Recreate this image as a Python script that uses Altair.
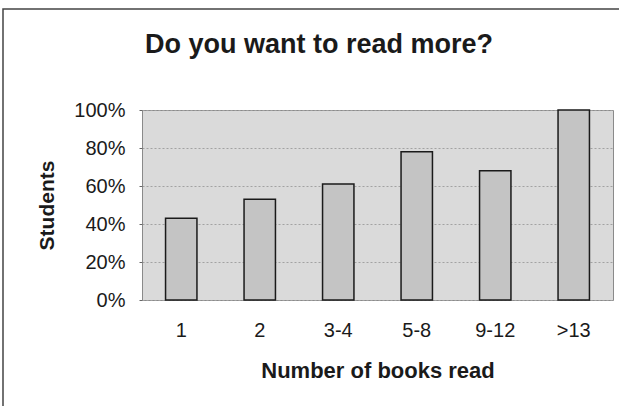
import altair as alt
import pandas as pd

# Share of students who want to read more, by number of books read
categories = ["1", "2", "3-4", "5-8", "9-12", ">13"]
shares = [0.43, 0.53, 0.61, 0.78, 0.68, 1.00]
y_ticks = [0, 0.2, 0.4, 0.6, 0.8, 1.0]
chart_title = "Do you want to read more?"

df = pd.DataFrame({"books": categories, "share": shares})

FONT = "Liberation Sans"
INK = "#1a1a1a"

bars = alt.Chart(df).mark_bar(
    color="#c4c4c4", stroke=INK, strokeWidth=1.5
).encode(
    x=alt.X(
        "books:N",
        sort=categories,
        title="Number of books read",
        scale=alt.Scale(paddingInner=0.6, paddingOuter=0.3),
        axis=alt.Axis(
            labelAngle=0,
            ticks=False,
            domain=False,
            labelPadding=20,
            labelFontSize=20,
            labelFont=FONT,
            labelColor=INK,
            titleFont=FONT,
            titleFontSize=22,
            titleFontWeight="bold",
            titleColor=INK,
            titleY=77,
            titleBaseline="alphabetic",
        ),
    ),
    y=alt.Y(
        "share:Q",
        title="Students",
        scale=alt.Scale(domain=[0, 1], nice=False),
        axis=alt.Axis(
            format="%",
            values=y_ticks,
            domain=False,
            ticks=True,
            tickSize=3,
            tickColor="#666666",
            labelPadding=14,
            labelFontSize=20,
            labelFont=FONT,
            labelColor=INK,
            grid=True,
            gridColor="#a2a2a2",
            gridDash=[2, 2],
            gridWidth=1,
            titleFont=FONT,
            titleFontSize=21,
            titleFontWeight="bold",
            titleColor=INK,
            titleAngle=270,
            titleX=-89,
            titleY=95,
            titleAlign="center",
            titleBaseline="alphabetic",
        ),
    ),
)

# Outer chart-area frame
frame = alt.Chart(pd.DataFrame({"k": [0]})).mark_rect(
    fill=None, fillOpacity=0, stroke="#444444", strokeWidth=1.5, clip=False
).encode(
    x=alt.value(-139), x2=alt.value(530),
    y=alt.value(-101), y2=alt.value(420),
)

# Chart heading, centred on the chart area
heading = alt.Chart(pd.DataFrame({"t": [chart_title]})).mark_text(
    font=FONT, fontSize=27, fontWeight="bold", color=INK,
    align="center", baseline="alphabetic", clip=False,
).encode(
    text="t:N",
    x=alt.value(177),
    y=alt.value(-57),
)

chart = alt.layer(frame, bars, heading).properties(
    width=471,
    height=190,
    padding={"left": 142, "top": 110, "right": 6, "bottom": 106},
    autosize="none",
    background="white",
).configure_view(
    fill="#dadada", stroke="#8a8a8a", strokeWidth=1
)

chart.save("out.html", embed_options={"renderer": "svg", "actions": False})
